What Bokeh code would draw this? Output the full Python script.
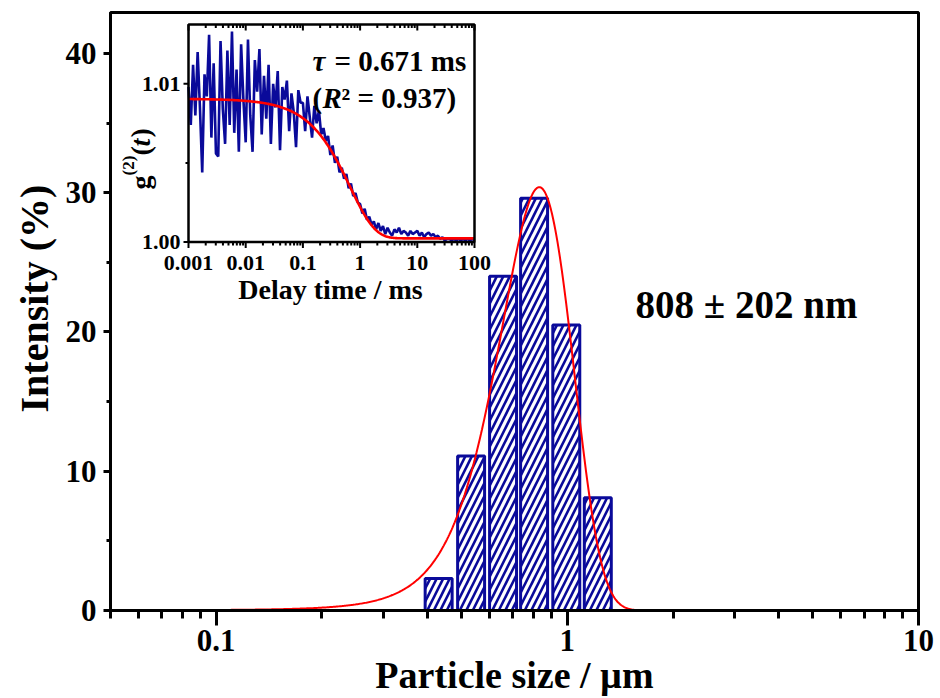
import numpy as np
from bokeh.plotting import figure
from bokeh.models import Range1d, LogScale, FixedTicker, Title
from bokeh.core.properties import value
from bokeh.embed import file_html
from bokeh.resources import INLINE

# ---------------- main histogram data ----------------
bin_centers_um = [0.430, 0.532, 0.656, 0.804, 0.993, 1.221]
intensity_pct = [2.3, 11.1, 24.0, 29.6, 20.5, 8.1]
# Gaussian fit of the size distribution
psd_fit_center_um = 0.832
psd_fit_sigma_um = 0.200
psd_fit_peak_pct = 30.4
size_label = "808 ± 202 nm"

x_major_ticks = [0.1, 1, 10]
x_tick_labels = ["0.1", "1", "10"]
y_major_ticks = [0, 10, 20, 30, 40]
y_minor_ticks = [5, 15, 25, 35]

# ---------------- inset: correlation function ----------------
delay_ms = [
    0.001000, 0.001096, 0.001202, 0.001318, 0.001445, 0.001585, 0.001738, 0.001905, 0.002089, 0.002291,
    0.002512, 0.002754, 0.003020, 0.003311, 0.003631, 0.003981, 0.004365, 0.004786, 0.005248, 0.005754,
    0.006310, 0.006918, 0.007586, 0.008318, 0.009120,
    0.01000, 0.01096, 0.01202, 0.01318, 0.01445, 0.01585, 0.01738, 0.01905, 0.02089, 0.02291,
    0.02512, 0.02754, 0.03020, 0.03311, 0.03631, 0.03981, 0.04365, 0.04786, 0.05248, 0.05754,
    0.06310, 0.06918, 0.07586, 0.08318, 0.09120,
    0.1000, 0.1096, 0.1202, 0.1318, 0.1445, 0.1585, 0.1738, 0.1905, 0.2089, 0.2291,
    0.2512, 0.2754, 0.3020, 0.3311, 0.3631, 0.3981, 0.4365, 0.4786, 0.5248, 0.5754,
    0.6310, 0.6918, 0.7586, 0.8318, 0.9120,
    1.000, 1.096, 1.202, 1.318, 1.445, 1.585, 1.738, 1.905, 2.089, 2.291,
    2.512, 2.754, 3.020, 3.311, 3.631, 3.981, 4.365, 4.786, 5.248, 5.754,
    6.310, 6.918, 7.586, 8.318, 9.120,
    10.00, 10.96, 12.02, 13.18, 14.45, 15.85, 17.38, 19.05, 20.89, 22.91,
    25.12, 27.54, 30.20, 33.11, 36.31, 39.81, 43.65, 47.86, 52.48, 57.54,
    63.10, 69.18, 75.86, 83.18, 91.20, 100.0,
]
g2_measured = [
    1.0098, 1.0074, 1.0112, 1.0080, 1.0120, 1.0085, 1.0044, 1.0106, 1.0092, 1.0131,
    1.0066, 1.0113, 1.0056, 1.0054, 1.0127, 1.0084, 1.0062, 1.0121, 1.0074, 1.0133,
    1.0069, 1.0109, 1.0057, 1.0125, 1.0090,
    1.0063, 1.0128, 1.0080, 1.0057, 1.0115, 1.0095, 1.0122, 1.0068, 1.0105, 1.0078,
    1.0112, 1.0062, 1.0100, 1.0085, 1.0108, 1.0058, 1.0098, 1.0090, 1.0102, 1.0070,
    1.0094, 1.0082, 1.0060, 1.0096, 1.0088,
    1.0088, 1.0070, 1.0092, 1.0079, 1.0066, 1.0086, 1.0075, 1.0083, 1.0068, 1.0072,
    1.0064, 1.0067, 1.0055, 1.0061, 1.0050, 1.0054, 1.0044, 1.0047, 1.0040, 1.0043,
    1.0034, 1.0037, 1.0029, 1.0031, 1.0025,
    1.0024, 1.0018, 1.0021, 1.0014, 1.0016, 1.0011, 1.0013, 1.0008, 1.0012, 1.0007,
    1.0010, 1.0005, 1.0009, 1.0006, 1.0004, 1.0008, 1.0006, 1.0009, 1.0005, 1.0007,
    1.0006, 1.0004, 1.0007, 1.0005, 1.0006,
    1.0007, 1.0004, 1.0006, 1.0003, 1.0005, 1.0006, 1.0004, 1.0005, 1.0003, 1.0004,
    1.0002, 1.0003, 1.0001, 1.0002, 1.0002, 1.0001, 1.0002, 1.0001, 1.0002, 1.0001,
    1.0002, 1.0001, 1.0002, 1.0001, 1.0002, 1.0001,
]
fit_tau_ms = 0.671
fit_baseline = 1.00023
fit_amplitude = 0.00882
tau_text = "= 0.671 ms"
r2_text = "\u00b2 = 0.937)"

inset_x_ticks = [0.001, 0.01, 0.1, 1, 10, 100]
inset_x_tick_labels = ["0.001", "0.01", "0.1", "1", "10", "100"]
inset_y_ticks = [1.00, 1.01]
inset_y_tick_labels = ["1.00", "1.01"]
inset_y_minor = [1.005]

# ---------------- layout (pixels) ----------------
W, H = 940, 698
FL, FR, FT, FB = 110, 918, 12, 610          # main frame
XMIN, XMAX = 0.05, 10.0
YMIN, YMAX = 0.0, 42.94
IL, IR, IT, IB = 188, 474, 24, 241.5        # inset frame
I_Y0, I_Y1_PX = 1.00, 83.3                   # inset y=1.00 at IB, y=1.01 at I_Y1_PX
I_DEC = (IR - IL) / 5.0                      # px per decade in inset
I_YPX = (IB - I_Y1_PX) / 0.01                # px per unit g2

FONT = "Liberation Serif"
SERIF = value(FONT)
BLUE = "#0a0a9a"


def mx(px):
    lo, hi = np.log10(XMIN), np.log10(XMAX)
    return 10 ** (lo + (px - FL) / (FR - FL) * (hi - lo))


def my(py):
    return YMIN + (FB - py) / (FB - FT) * (YMAX - YMIN)


def ix(px):
    return 10 ** (-3 + (px - IL) / I_DEC)


def iy(py):
    return I_Y0 + (IB - py) / I_YPX


p = figure(width=W, height=H, x_axis_type="log", x_range=Range1d(XMIN, XMAX),
           y_range=Range1d(YMIN, YMAX), output_backend="svg", toolbar_location=None,
           min_border_left=FL, min_border_right=W - FR, min_border_top=FT,
           min_border_bottom=H - FB)
p.background_fill_color = "white"
p.border_fill_color = "white"
p.xgrid.visible = False
p.ygrid.visible = False
p.outline_line_color = "black"
p.outline_line_width = 3
p.outline_line_alpha = 1

p.extra_x_ranges = {"ix": Range1d(ix(FL), ix(FR))}
p.extra_x_scales = {"ix": LogScale()}
p.extra_y_ranges = {"iy": Range1d(iy(FB), iy(FT))}

# ---- axes ----
x_minor = [m * 10.0 ** k for k in (-2, -1, 0) for m in range(2, 10) if XMIN <= m * 10.0 ** k <= XMAX]
xa = p.xaxis[0]
xa.ticker = FixedTicker(ticks=x_major_ticks, minor_ticks=x_minor)
xa.major_label_overrides = {t: l for t, l in zip(x_major_ticks, x_tick_labels)}
ya = p.yaxis[0]
ya.ticker = FixedTicker(ticks=y_major_ticks, minor_ticks=y_minor_ticks)
for ax in (xa, ya):
    ax.axis_line_width = 3
    ax.major_tick_line_width = 3
    ax.minor_tick_line_width = 3
    ax.major_tick_in = 0
    ax.minor_tick_in = 0
    ax.major_label_text_font = FONT
    ax.major_label_text_font_style = "bold"
    ax.major_label_text_color = "black"
    ax.axis_label_text_font = FONT
    ax.axis_label_text_font_style = "bold"
    ax.axis_label_text_color = "black"
xa.major_tick_out = 15
xa.minor_tick_out = 8
xa.major_label_text_font_size = "31px"
xa.major_label_standoff = 4
xa.axis_label = "Particle size / \u00b5m"
xa.axis_label_text_font_size = "38px"
xa.axis_label_standoff = 0
ya.major_tick_out = 7
ya.minor_tick_out = 4
ya.major_label_text_font_size = "31px"
ya.major_label_standoff = 7
ya.axis_label = None

ytitle = Title(text="Intensity (%)", align="left", offset=198, standoff=12,
               text_font=FONT, text_font_style="bold", text_font_size="40px",
               text_color="black")
p.add_layout(ytitle, "left")

# ---- histogram bars (log-spaced bins) ----
half = 10 ** 0.0384
lefts = [c / half for c in bin_centers_um]
rights = [c * half for c in bin_centers_um]
p.quad(left=lefts, right=rights, bottom=0, top=intensity_pct,
       fill_color="white", line_color=BLUE, line_width=3,
       hatch_pattern="/", hatch_color=BLUE, hatch_weight=2.6, hatch_scale=13)

# ---- Gaussian fit curve ----
xs = np.geomspace(0.1, 1.75, 400)
ys = psd_fit_peak_pct * np.exp(-(xs - psd_fit_center_um) ** 2 / (2 * psd_fit_sigma_um ** 2))
p.line(xs, ys, line_color="red", line_width=2)

p.text(x=[mx(746)], y=[my(304)], text=[size_label], text_font=SERIF,
       text_font_style="bold", text_font_size="39px", text_align="center",
       text_baseline="middle", text_color="black")

# ---------------- inset ----------------
itop = iy(IT)
R = dict(x_range_name="ix", y_range_name="iy")
p.quad(left=[0.001], right=[100], bottom=[I_Y0], top=[itop], fill_color="white",
       line_color=None, **R)

p.line(delay_ms, g2_measured, line_color=BLUE, line_width=2.6, **R)
ts = np.geomspace(0.001, 100, 400)
gfit = fit_baseline + fit_amplitude * np.exp(-ts / fit_tau_ms)
p.line(ts, gfit, line_color="red", line_width=2.6, **R)

p.quad(left=[0.001], right=[100], bottom=[I_Y0], top=[itop], fill_color=None,
       line_color="black", line_width=2.5, **R)

# inset ticks
i_minor = [m * 10.0 ** k for k in range(-3, 2) for m in range(2, 10)]
x0s, y0s, x1s, y1s = [], [], [], []
for t in inset_x_ticks:
    x0s += [t, t]; x1s += [t, t]
    y0s += [I_Y0, itop]; y1s += [I_Y0 - 6 / I_YPX, itop - 6 / I_YPX]
for t in i_minor:
    x0s += [t, t]; x1s += [t, t]
    y0s += [I_Y0, itop]; y1s += [I_Y0 - 3.5 / I_YPX, itop - 3.5 / I_YPX]
for v in inset_y_ticks:
    x0s.append(ix(IL - 5)); x1s.append(0.001); y0s.append(v); y1s.append(v)
for v in inset_y_minor:
    x0s.append(ix(IL - 3)); x1s.append(0.001); y0s.append(v); y1s.append(v)
p.segment(x0=x0s, y0=y0s, x1=x1s, y1=y1s, line_color="black", line_width=2, **R)

p.text(x=inset_x_ticks, y=[iy(IB + 21)] * len(inset_x_ticks), text=inset_x_tick_labels,
       text_font=SERIF, text_font_style="bold", text_font_size="22px",
       text_align="center", text_baseline="middle", text_color="black", **R)
p.text(x=[ix(IL - 8)] * 2, y=inset_y_ticks, text=inset_y_tick_labels,
       text_font=SERIF, text_font_style="bold", text_font_size="22px",
       text_align="right", text_baseline="middle", text_color="black", **R)
p.text(x=[ix(330)], y=[iy(289)], text=["Delay time / ms"], text_font=SERIF,
       text_font_style="bold", text_font_size="28px", text_align="center",
       text_baseline="middle", text_color="black", **R)

# g(2)(t) rotated label
rot = dict(angle=np.pi / 2, text_align="left", text_baseline="middle",
           text_font=SERIF, text_color="black", **R)
p.text(x=[ix(140)], y=[iy(189)], text=["g"], text_font_style="bold", text_font_size="28px", **rot)
p.text(x=[ix(128)], y=[iy(175)], text=["(2)"], text_font_style="bold", text_font_size="17px", **rot)
p.text(x=[ix(140)], y=[iy(155)], text=["("], text_font_style="bold", text_font_size="28px", **rot)
p.text(x=[ix(140)], y=[iy(146)], text=["t"], text_font_style="bold italic", text_font_size="28px", **rot)
p.text(x=[ix(140)], y=[iy(137)], text=[")"], text_font_style="bold", text_font_size="28px", **rot)

# tau and R^2 annotations
ann = dict(text_baseline="middle", text_font=SERIF, text_color="black",
           text_font_size="29px", text_align="left", **R)
p.text(x=[ix(312)], y=[iy(60)], text=["\u03c4"], text_font_style="bold italic", **ann)
p.text(x=[ix(334)], y=[iy(60)], text=[tau_text], text_font_style="bold", **ann)
p.text(x=[ix(312)], y=[iy(97)], text=["("], text_font_style="bold", **ann)
p.text(x=[ix(322)], y=[iy(97)], text=["R"], text_font_style="bold italic", **ann)
p.text(x=[ix(341)], y=[iy(97)], text=[r2_text], text_font_style="bold", **ann)

open("out.html", "w").write(file_html(p, INLINE))
